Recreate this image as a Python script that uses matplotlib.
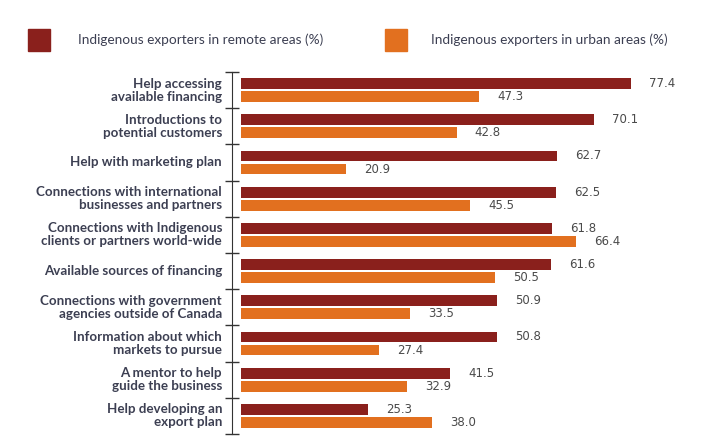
import numpy as np
import matplotlib
matplotlib.use("Agg")
import matplotlib.pyplot as plt
from matplotlib.patches import Rectangle

categories = [
    "Help accessing\navailable financing",
    "Introductions to\npotential customers",
    "Help with marketing plan",
    "Connections with international\nbusinesses and partners",
    "Connections with Indigenous\nclients or partners world-wide",
    "Available sources of financing",
    "Connections with government\nagencies outside of Canada",
    "Information about which\nmarkets to pursue",
    "A mentor to help\nguide the business",
    "Help developing an\nexport plan",
]
remote = [77.4, 70.1, 62.7, 62.5, 61.8, 61.6, 50.9, 50.8, 41.5, 25.3]
urban = [47.3, 42.8, 20.9, 45.5, 66.4, 50.5, 33.5, 27.4, 32.9, 38.0]
series_names = ["Indigenous exporters in remote areas (%)",
                "Indigenous exporters in urban areas (%)"]

c_remote = "#8a201c"
c_urban = "#e2701f"
label_col = "#3c3f52"
val_col = "#4a4a4a"

fig = plt.figure(figsize=(7.06, 4.47), dpi=100)
W, H = 706, 447
ax = fig.add_axes([232 / W, 1 - 434 / H, (700 - 232) / W, (434 - 72) / H])

y = np.arange(len(categories))
h = 0.3
ax.barh(y - 0.18, remote, height=h, color=c_remote)
ax.barh(y + 0.18, urban, height=h, color=c_urban)

for yi, v in zip(y, remote):
    ax.text(v + 3.6, yi - 0.18, f"{v:.1f}", va="center", ha="left",
            fontsize=8.5, color=val_col)
for yi, v in zip(y, urban):
    ax.text(v + 3.6, yi + 0.18, f"{v:.1f}", va="center", ha="left",
            fontsize=8.5, color=val_col)

scale = (631 - 241) / 77.4
ax.set_xlim(-(241 - 232) / scale, (700 - 232) / scale - (241 - 232) / scale)
ax.set_ylim(len(categories) - 0.5, -0.5)

ax.set_xticks([])
ax.set_yticks(np.arange(len(categories) + 1) - 0.5)
ax.set_yticklabels([])
ax.tick_params(axis="y", direction="inout", length=10, width=1, color="#333333")
for s in ["top", "right", "bottom"]:
    ax.spines[s].set_visible(False)
ax.spines["left"].set_color("#333333")

for yi, lab in zip(y, categories):
    ax.text(-(241 - 232) / scale - 10 / scale, yi, lab, ha="right", va="center",
            fontsize=9.6, fontweight="bold", color=label_col, linespacing=1.1,
            family="Lato")

# legend
fig.patches.append(Rectangle((28 / W, 1 - 51 / H), 22 / W, 22 / H,
                             transform=fig.transFigure, color=c_remote))
fig.patches.append(Rectangle((385 / W, 1 - 51 / H), 22 / W, 22 / H,
                             transform=fig.transFigure, color=c_urban))
fig.text(78 / W, 1 - 40 / H, series_names[0], va="center", ha="left",
         fontsize=9.8, color=label_col, family="Lato")
fig.text(431 / W, 1 - 40 / H, series_names[1], va="center", ha="left",
         fontsize=9.8, color=label_col, family="Lato")

fig.savefig("out.png", dpi=100)
